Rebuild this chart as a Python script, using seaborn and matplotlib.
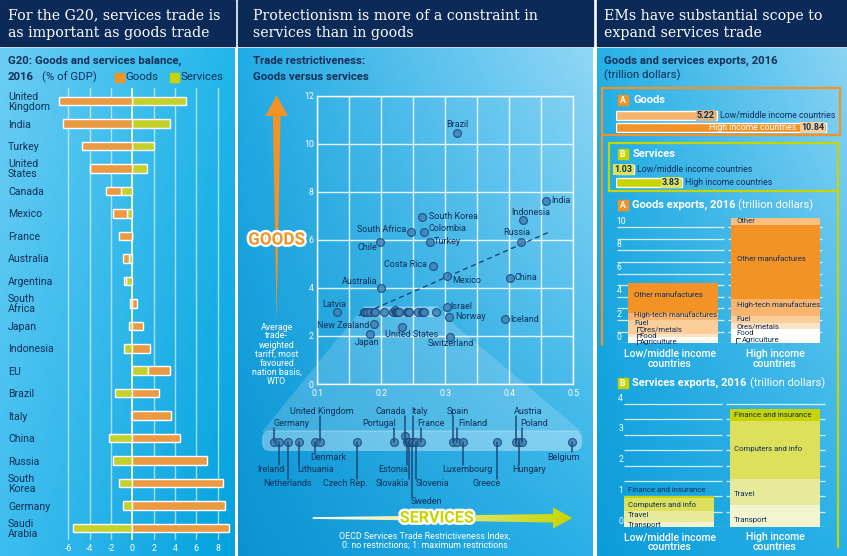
import numpy as np
import pandas as pd
import matplotlib
matplotlib.use("Agg")
import matplotlib.pyplot as plt
import matplotlib.transforms as mtransforms
from matplotlib.patches import Rectangle, Polygon, FancyBboxPatch
from matplotlib import patheffects as pe
import seaborn as sns

sns.set_theme(style="white")
plt.rcParams['font.family'] = ['Roboto', 'DejaVu Sans']

# ------------------------------------------------------------------ data
g20_countries = ["United\nKingdom", "India", "Turkey", "United\nStates", "Canada",
                 "Mexico", "France", "Australia", "Argentina", "South\nAfrica",
                 "Japan", "Indonesia", "EU", "Brazil", "Italy", "China", "Russia",
                 "South\nKorea", "Germany", "Saudi\nArabia"]
goods_balance = [-6.9, -6.5, -4.75, -4.0, -1.4, -1.3, -1.25, -0.55, -0.15, 0.4,
                 1.05, 1.65, 2.05, 2.55, 3.6, 4.5, 7.0, 8.5, 8.7, 9.05]
services_balance = [5.0, 3.5, 2.0, 1.35, -1.1, -0.5, 0.0, -0.3, -0.6, -0.2,
                    -0.3, -0.8, 1.5, -1.6, -0.1, -2.2, -1.8, -1.25, -0.85, -5.55]
balance_ticks = [-6, -4, -2, 0, 2, 4, 6, 8]

scatter_countries = ["Brazil", "India", "Indonesia", "Russia", "China", "Iceland",
                     "South Korea", "Colombia", "South Africa", "Turkey", "Chile",
                     "Costa Rica", "Mexico", "Australia", "Latvia", "New Zealand",
                     "United States", "Japan", "Switzerland", "Israel", "Norway"]
scatter_stri = [0.319, 0.458, 0.421, 0.419, 0.401, 0.394, 0.263, 0.266, 0.247, 0.276,
                0.198, 0.280, 0.302, 0.199, 0.131, 0.188, 0.233, 0.182, 0.308, 0.302, 0.305]
scatter_tariff = [10.46, 7.63, 6.83, 5.90, 4.43, 2.70, 6.94, 6.33, 6.33, 5.92,
                  5.91, 4.92, 4.49, 4.01, 3.01, 2.48, 2.39, 2.08, 1.97, 3.20, 2.79]

cluster_countries = ["Germany", "Ireland", "Netherlands", "Lithuania", "Denmark",
                     "United Kingdom", "Czech Rep.", "Portugal", "Canada", "Estonia",
                     "Slovakia", "Sweden", "Italy", "Slovenia", "France", "Spain",
                     "Finland", "Luxembourg", "Greece", "Austria", "Hungary", "Poland",
                     "Belgium"]
cluster_stri = [0.173, 0.1747, 0.178, 0.1824, 0.1882, 0.1902, 0.204, 0.218, 0.222,
                0.2228, 0.2237, 0.2246, 0.2251, 0.2263, 0.2281, 0.240, 0.2416, 0.244,
                0.2567, 0.2638, 0.2649, 0.2661, 0.285]
cluster_tariff = [3.0, 3.0, 3.0, 3.0, 3.0, 3.0, 3.0, 3.0, 3.1, 3.0, 3.0, 3.0, 3.0,
                  3.0, 3.0, 3.0, 3.0, 3.0, 3.0, 3.0, 3.0, 3.0, 3.0]
trend_stri = [0.165, 0.46]
trend_tariff = [2.85, 6.3]

income_groups = ["Low/middle income countries", "High income countries"]
goods_exports_total = [5.22, 10.84]
services_exports_total = [1.03, 3.83]

goods_segments = ["Agriculture", "Food", "Ores/metals", "Fuel",
                  "High-tech manufactures", "Other manufactures", "Other"]
goods_low = [0.25, 0.33, 0.25, 1.20, 0.58, 2.61, 0.0]
goods_high = [0.23, 0.98, 0.52, 0.63, 1.44, 6.38, 0.66]

services_segments = ["Transport", "Travel", "Computers and info", "Finance and insurance"]
services_low = [0.17, 0.35, 0.43, 0.08]
services_high = [0.72, 0.86, 1.87, 0.38]

# ------------------------------------------------------------------ style
W, H = 847, 556
NAVY = '#10305a'
BAR_NAVY = '#0b2a57'
ORANGE = '#f39325'
LGREEN = '#c8d400'
P1_ORANGE = '#ec9a42'
P1_GREEN = '#c4d02c'
SERIF = ['DejaVu Serif']

fig = plt.figure(figsize=(W / 100, H / 100), dpi=100, facecolor='white')


def rect_px(l, t, w, h):
    return [l / W, 1 - (t + h) / H, w / W, h / H]


ax_bg = fig.add_axes([0, 0, 1, 1])
ax_bg.axis('off')


def gradient(x0, x1, y0, y1, tl, tr, bl, br):
    n = 64
    c = [np.array(matplotlib.colors.to_rgb(k)) for k in (tl, tr, bl, br)]
    u = np.linspace(0, 1, n)[None, :, None]
    v = np.linspace(0, 1, n)[:, None, None]
    img = (1 - u) * (1 - v) * c[0] + u * (1 - v) * c[1] + (1 - u) * v * c[2] + u * v * c[3]
    ax_bg.imshow(img, extent=(x0, x1, y1, y0), origin='upper', aspect='auto',
                 interpolation='bilinear', zorder=0)


panels = [(0, 235), (238, 593), (597, 847)]
gradient(0, 235, 48, H, '#6ccdf3', '#22b6ea', '#3dbdef', '#03a2de')
gradient(238, 593, 48, H, '#22ace4', '#8fd6f5', '#0a93d3', '#2ab1e7')
gradient(597, 847, 48, H, '#26b0e6', '#8ad3f3', '#0c9cd9', '#28b1e7')
for x0, x1 in panels:
    ax_bg.add_patch(Rectangle((x0, 0), x1 - x0, 46, color=BAR_NAVY, zorder=1))
ax_bg.set_xlim(0, W)
ax_bg.set_ylim(H, 0)

texts = []


def T(x, y, s, **kw):
    texts.append((x, y, s, kw))


# titles
T(8, 24.2, "For the G20, services trade is\nas important as goods trade",
  color='white', fontsize=10.2, family=SERIF, va='center', linespacing=1.28)
T(253, 24.2, "Protectionism is more of a constraint in\nservices than in goods",
  color='white', fontsize=10.2, family=SERIF, va='center', linespacing=1.28)
T(604, 24.2, "EMs have substantial scope to\nexpand services trade",
  color='white', fontsize=10.2, family=SERIF, va='center', linespacing=1.28)

# ================================================================ panel 1
ax1 = fig.add_axes(rect_px(57.75, 88, 175.75, 452))
ax1.set_xlim(-7, 9.5)
ax1.set_ylim(19.53, -0.58)
ax1.patch.set_alpha(0)
for s in ax1.spines.values():
    s.set_visible(False)
ypos = np.arange(len(g20_countries))
for t in balance_ticks:
    ax1.axvline(t, color='white', lw=1.3 if t == 0 else 1.0,
                alpha=0.95 if t == 0 else 0.6, zorder=1)
goods_left = [s if g * s > 0 else 0 for g, s in zip(goods_balance, services_balance)]
ax1.barh(ypos, services_balance, height=0.38, color=P1_GREEN, zorder=2)
ax1.barh(ypos, goods_balance, left=goods_left, height=0.38, color=P1_ORANGE, zorder=2)
ax1.set_yticks(ypos)
ax1.set_yticklabels(g20_countries, fontsize=7.6, color=NAVY, linespacing=0.95)
for lab in ax1.get_yticklabels():
    lab.set_ha('left')
ax1.tick_params(axis='y', length=0, pad=49.75 * 0.72)
ax1.set_xticks(balance_ticks)
ax1.set_xticklabels([str(t) for t in balance_ticks], fontsize=6.3, color='white')
ax1.tick_params(axis='x', length=0, pad=3.0)

T(8, 61, "G20: Goods and services balance,", color=NAVY, fontsize=8.2,
  fontweight='bold', va='center')
T(8, 77, "2016", color=NAVY, fontsize=8.2, fontweight='bold', va='center')
T(42, 77, "(% of GDP)", color=NAVY, fontsize=8.2, va='center')
ax_bg.add_patch(Rectangle((114.5, 72.5), 9, 9, color=ORANGE, zorder=2))
T(125, 77, "Goods", color=NAVY, fontsize=8.2, va='center')
ax_bg.add_patch(Rectangle((170, 72.5), 9, 9, color=LGREEN, zorder=2))
T(180.5, 77, "Services", color=NAVY, fontsize=8.2, va='center')

# ================================================================ panel 2
T(253, 61, "Trade restrictiveness:", color=NAVY, fontsize=8.2, fontweight='bold',
  va='center')
T(253, 76.7, "Goods versus services", color=NAVY, fontsize=8.2, fontweight='bold',
  va='center')

# magnifier shapes
ax_bg.add_patch(Polygon([(356, 316), (444, 316), (582, 432), (262, 432)],
                        closed=True, color='white', alpha=0.17, lw=0, zorder=2))
ax_bg.add_patch(FancyBboxPatch((361, 306.5), 79, 10.5,
                               boxstyle="round,pad=0,rounding_size=5",
                               fc='white', alpha=0.38, lw=0, zorder=2))
ax_bg.add_patch(FancyBboxPatch((262, 430.5), 320, 20.5,
                               boxstyle="round,pad=0,rounding_size=8",
                               fc='white', alpha=0.35, lw=0, zorder=2))

ax2 = fig.add_axes(rect_px(317.3, 95.7, 256, 288.3))
ax2.patch.set_alpha(0)
ax2.set_xlim(0.1, 0.5)
ax2.set_ylim(0, 12)
ax2.set_xticks([0.1, 0.2, 0.3, 0.4, 0.5])
ax2.set_xticks([0.15, 0.25, 0.35, 0.45], minor=True)
ax2.set_xticklabels(["0.1", "0.2", "0.3", "0.4", "0.5"], fontsize=6.3, color='white')
ax2.set_yticks(range(0, 13, 2))
ax2.set_yticklabels([str(v) for v in range(0, 13, 2)], fontsize=6.3, color='white')
ax2.tick_params(which='both', length=0)
ax2.tick_params(axis='x', pad=3.5)
ax2.tick_params(axis='y', pad=2.5)
ax2.grid(which='both', color='white', lw=1.0, alpha=0.85, zorder=0)
for s in ax2.spines.values():
    s.set_color('white')
    s.set_linewidth(1.0)
ax2.set_axisbelow(True)

PT_FACE = '#3f82b9'
PT_EDGE = '#1c4877'
ax2.plot(trend_stri, trend_tariff, ls=(0, (4, 3)), color='#163d6b', lw=0.9, zorder=3)
df_sc = pd.DataFrame({"country": scatter_countries, "stri": scatter_stri,
                      "tariff": scatter_tariff})
df_cl = pd.DataFrame({"country": cluster_countries, "stri": cluster_stri,
                      "tariff": cluster_tariff})
sns.scatterplot(data=pd.concat([df_cl, df_sc]), x="stri", y="tariff", ax=ax2,
                s=32, color=PT_FACE, edgecolor=PT_EDGE, linewidth=0.85, alpha=0.85,
                zorder=5, legend=False)
ax2.set_xlabel("")
ax2.set_ylabel("")

scatter_label_pos = {
    "Brazil": (0, 8.5, 'center'), "India": (5, 0, 'left'),
    "Indonesia": (8, 7.2, 'center'), "Russia": (-4.5, 9.5, 'center'),
    "China": (5, 0, 'left'), "Iceland": (5, 0, 'left'),
    "South Korea": (7.5, 0.5, 'left'), "Colombia": (4.5, 3, 'left'),
    "South Africa": (-5, 2, 'right'), "Turkey": (3.5, 0.7, 'left'),
    "Chile": (-2.5, -5.3, 'right'), "Costa Rica": (-5.5, 1.5, 'right'),
    "Mexico": (5.7, -4.6, 'left'), "Australia": (-2.7, 6.6, 'right'),
    "Latvia": (-2.4, 6.7, 'center'), "New Zealand": (-4.3, -1.3, 'right'),
    "United States": (9, -8, 'center'), "Japan": (-3, -8.3, 'center'),
    "Switzerland": (0, -7.3, 'center'), "Israel": (3.5, 1, 'left'),
    "Norway": (6.5, 0, 'left'),
}
for name, x, y in zip(scatter_countries, scatter_stri, scatter_tariff):
    dx, dy, ha = scatter_label_pos[name]
    ax2.annotate(name, (x, y), xytext=(dx, dy), textcoords='offset pixels',
                 ha=ha, va='center', fontsize=6.5, color=NAVY, zorder=6)

# strip (magnified cluster)
ax3 = fig.add_axes(rect_px(262, 431, 320, 21))
ax3.set_xlim(0.16838, 0.28865)
ax3.set_ylim(2.825, 3.175)
ax3.axis('off')
sns.scatterplot(data=df_cl, x="stri", y="tariff", ax=ax3, s=32, color=PT_FACE,
                edgecolor=PT_EDGE, linewidth=0.85, alpha=0.85, zorder=5, legend=False)

strip_label_pos = {
    "United Kingdom": (2, 411), "Canada": (-13.7, 411), "Italy": (6.7, 411),
    "Spain": (5.3, 411), "Austria": (12, 411),
    "Germany": (17, 423), "Portugal": (-15, 423), "France": (9.7, 423),
    "Finland": (15.5, 423), "Poland": (12.5, 423),
    "Denmark": (14, 457), "Belgium": (-8.5, 457),
    "Ireland": (-8.2, 470), "Lithuania": (16.4, 470), "Estonia": (-13.2, 470),
    "Luxembourg": (4.4, 470), "Hungary": (10, 470),
    "Netherlands": (0, 484), "Czech Rep.": (-11.9, 484), "Slovakia": (-16.3, 484),
    "Slovenia": (16.5, 484), "Greece": (-10.7, 484),
    "Sweden": (15, 502),
}

# ================================================================ panel 3
T(604, 61, "Goods and services exports, 2016", color=NAVY, fontsize=8.2,
  fontweight='bold', va='center')
T(604, 75, "(trillion dollars)", color=NAVY, fontsize=8.2, va='center')

ax_bg.add_patch(Rectangle((602, 88.3), 238, 46.7, fill=False, ec=ORANGE, lw=1.6, zorder=3))
ax_bg.plot([602, 602], [135, 345], color=ORANGE, lw=1.6, zorder=3)
ax_bg.add_patch(Rectangle((609, 142.7), 228.5, 48, fill=False, ec=LGREEN, lw=1.6, zorder=3))
ax_bg.plot([837.5, 837.5], [190.7, 547], color=LGREEN, lw=1.6, zorder=3)
ax_bg.set_xlim(0, W)
ax_bg.set_ylim(H, 0)

for (x, y, c, lab) in [(617.5, 95, ORANGE, "A"), (617.5, 149, LGREEN, "B"),
                       (617.5, 200, ORANGE, "A"), (617.5, 378, LGREEN, "B")]:
    ax_bg.add_patch(Rectangle((x, y), 10, 10, color=c, zorder=3))
    T(x + 5, y + 5.3, lab, color='white', fontsize=6.2, fontweight='bold',
      ha='center', va='center')
T(633, 100, "Goods", color='white', fontsize=8, fontweight='bold', va='center')
T(633, 154, "Services", color='white', fontsize=8, fontweight='bold', va='center')

BOXFS = 6.3
# totals bars
axg = fig.add_axes(rect_px(615.7, 109.5, 224, 23.7))
sns.barplot(x=goods_exports_total, y=income_groups, hue=income_groups,
            palette=['#f8b46c', ORANGE], orient='h', width=0.76, ax=axg,
            legend=False, saturation=1)
axg.set_xlim(0, 224 / 19.4)
axg.set_ylim(1.5, -0.5)
axg.axis('off')
axg.annotate(f"{goods_exports_total[0]:.2f}", (goods_exports_total[0], 0),
             xytext=(-2, 0), textcoords='offset pixels', ha='right', va='center',
             fontsize=BOXFS + 0.2, fontweight='bold', color=NAVY,
             bbox=dict(boxstyle='square,pad=0.12', fc='#e0b27e', ec='none'))
axg.annotate("Low/middle income countries", (goods_exports_total[0], 0),
             xytext=(3, 0), textcoords='offset pixels', ha='left', va='center',
             fontsize=BOXFS, color=NAVY)
axg.annotate(f"{goods_exports_total[1]:.2f}", (goods_exports_total[1], 1),
             xytext=(-2, 0), textcoords='offset pixels', ha='right', va='center',
             fontsize=BOXFS + 0.2, fontweight='bold', color=NAVY,
             bbox=dict(boxstyle='square,pad=0.12', fc='#f9cf9b', ec='none'))
axg.annotate("High income countries", (goods_exports_total[1], 1),
             xytext=(-30, 0), textcoords='offset pixels', ha='right', va='center',
             fontsize=BOXFS, color='white')

axs = fig.add_axes(rect_px(615.7, 163.2, 220, 25.4))
sns.barplot(x=services_exports_total, y=income_groups, hue=income_groups,
            palette=[LGREEN, LGREEN], orient='h', width=0.72, ax=axs,
            legend=False, saturation=1)
axs.set_xlim(0, 220 / 17.3)
axs.set_ylim(1.5, -0.5)
axs.axis('off')
axs.annotate(f"{services_exports_total[0]:.2f}", (services_exports_total[0], 0),
             xytext=(-1, 0), textcoords='offset pixels', ha='right', va='center',
             fontsize=BOXFS + 0.2, fontweight='bold', color=NAVY,
             bbox=dict(boxstyle='square,pad=0.12', fc='#dfe25a', ec='none'))
axs.annotate("Low/middle income countries", (services_exports_total[0], 0),
             xytext=(3, 0), textcoords='offset pixels', ha='left', va='center',
             fontsize=BOXFS, color=NAVY)
axs.annotate(f"{services_exports_total[1]:.2f}", (services_exports_total[1], 1),
             xytext=(-2, 0), textcoords='offset pixels', ha='right', va='center',
             fontsize=BOXFS + 0.2, fontweight='bold', color=NAVY,
             bbox=dict(boxstyle='square,pad=0.12', fc='#dfe25a', ec='none'))
axs.annotate("High income countries", (services_exports_total[1], 1),
             xytext=(3, 0), textcoords='offset pixels', ha='left', va='center',
             fontsize=BOXFS, color=NAVY)

# stacked goods exports
T(632, 205, "Goods exports, 2016", color='white', fontsize=8, fontweight='bold',
  va='center', key='gtitle')
T(632, 383, "Services exports, 2016", color='white', fontsize=8, fontweight='bold',
  va='center', key='stitle')

ax4 = fig.add_axes(rect_px(615, 215, 211, 128.3))
ax4.set_xlim(-0.570, 1.494)
ax4.set_ylim(0, 11.06)
ax4.axis('off')
for v in range(0, 11):
    ax4.hlines(v, -0.554, 0.496, color='white', lw=0.9, alpha=0.8, zorder=1)
    ax4.hlines(v, 0.532, 1.452, color='white', lw=0.9, alpha=0.8, zorder=1)
for v in range(0, 11, 2):
    ax4.annotate(str(v), (-0.554, v), xytext=(0, 1.5), textcoords='offset pixels',
                 ha='left', va='bottom', fontsize=6.2, color='white')
goods_colors = ['#fff7ee', '#ffffff', '#fde3c6', '#fbcd98', '#f9b570', ORANGE, '#f9c07f']
bl = np.zeros(2)
for seg, lo, hi, col in zip(goods_segments, goods_low, goods_high, goods_colors):
    ax4.bar([0, 1], [lo, hi], bottom=bl, width=0.88, color=col, zorder=3, lw=0)
    bl += np.array([lo, hi])

goods_label_y_low = [0.09, 0.63, 1.23, 1.78, 2.5, 4.16, None]
goods_label_y_high = [0.28, 0.86, 1.49, 2.09, 3.3, 7.24, 10.54]
for seg, yl, yh in zip(goods_segments, goods_label_y_low, goods_label_y_high):
    if yl is not None:
        small = seg in ("Agriculture", "Food", "Ores/metals")
        ax4.annotate(seg, (-0.44, yl), xytext=(11.5 if small else 6, 0),
                     textcoords='offset pixels', ha='left', va='center',
                     fontsize=5.6, color=NAVY, zorder=6)
    small_h = seg == "Agriculture"
    ax4.annotate(seg, (0.56, yh), xytext=(11 if small_h else 6, 0),
                 textcoords='offset pixels', ha='left', va='center',
                 fontsize=5.6, color=NAVY, zorder=6)

# services stacked
ax5 = fig.add_axes(rect_px(615, 395, 215, 132.3))
ax5.set_xlim(-0.511, 1.517)
ax5.set_ylim(0, 4.295)
ax5.axis('off')
for v in np.arange(0, 4.01, 0.5):
    ax5.hlines(v, -0.429, 0.495, color='white', lw=0.9, alpha=0.8, zorder=1)
    ax5.hlines(v, 0.536, 1.47, color='white', lw=0.9, alpha=0.8, zorder=1)
for v in range(0, 5):
    ax5.annotate(str(v), (-0.48, v), xytext=(0, 1.5), textcoords='offset pixels',
                 ha='left', va='bottom', fontsize=6.2, color='white')
services_colors = ['#f2f3cf', '#e7e99b', '#dce05a', LGREEN]
bl = np.zeros(2)
for seg, lo, hi, col in zip(services_segments, services_low, services_high, services_colors):
    ax5.bar([0, 1], [lo, hi], bottom=bl, width=0.85, color=col, zorder=3, lw=0)
    bl += np.array([lo, hi])
services_label_y_low = [0.07, 0.4, 0.75, 1.21]
services_label_y_high = [0.24, 1.08, 2.56, 3.65]
for seg, yl, yh in zip(services_segments, services_label_y_low, services_label_y_high):
    ax5.annotate(seg, (-0.425, yl), xytext=(4, 0), textcoords='offset pixels',
                 ha='left', va='center', fontsize=5.6, color=NAVY, zorder=6)
    ax5.annotate(seg, (0.575, yh), xytext=(4, 0), textcoords='offset pixels',
                 ha='left', va='center', fontsize=5.6, color=NAVY, zorder=6)

for cx, cy, lab in [(670, 358.7, "Low/middle income\ncountries"),
                    (775, 358.7, "High income\ncountries"),
                    (670, 542.5, "Low/middle income\ncountries"),
                    (775, 542.5, "High income\ncountries")]:
    T(cx, cy, lab, color='white', fontsize=7.6, ha='center', va='center',
      linespacing=1.0, fontweight='medium')

# ================================================================ overlay
ax_fg = fig.add_axes([0, 0, 1, 1])
ax_fg.set_xlim(0, W)
ax_fg.set_ylim(H, 0)
ax_fg.axis('off')
ax_fg.patch.set_alpha(0)

renderer = fig.canvas.get_renderer()
for x, y, s, kw in texts:
    key = kw.pop('key', None)
    t = ax_fg.text(x, y, s, **kw)
    if key in ('gtitle', 'stitle'):
        bb = t.get_window_extent(renderer)
        ax_fg.text(x + bb.width + 3, y, "(trillion dollars)", color='white',
                   fontsize=8, va='center')

# brackets for small goods segments
for (bx, by) in [(636.5, 329), (636.5, 336), (636.5, 342.3), (735.5, 340)]:
    ax_fg.plot([bx, bx, bx + 4], [by + 3, by - 2.5, by - 2.5], color=NAVY, lw=0.6)

# GOODS arrow
ax_fg.add_patch(Polygon([(276.7, 95.5), (288, 116), (280.5, 116), (276.7, 320),
                         (272.9, 116), (265.4, 116)], closed=True, color=ORANGE, lw=0))
ax_fg.text(276.7, 240, "GOODS", color=ORANGE, fontsize=12.3, fontweight='bold',
           ha='center', va='center',
           path_effects=[pe.withStroke(linewidth=3.4, foreground='white')])
ax_fg.text(276.7, 354, "Average\ntrade-\nweighted\ntariff, most\nfavoured\nnation basis,\nWTO",
           color='white', fontsize=6.4, ha='center', va='center', linespacing=1.0)

# SERVICES arrow with gradient
arrow = Polygon([(312.7, 517.2), (553, 514), (553, 507.5), (572.5, 518),
                 (553, 528.5), (553, 522.5), (312.7, 518.9)], closed=True,
                fc='none', ec='none')
ax_fg.add_patch(arrow)
c0 = np.array(matplotlib.colors.to_rgb('#ffffff'))
c1 = np.array(matplotlib.colors.to_rgb(LGREEN))
uu = np.linspace(0, 1, 128)[None, :, None]
grad_img = np.repeat((1 - uu) * c0 + uu * c1, 4, axis=0)
im = ax_fg.imshow(grad_img, extent=(312, 573, 531, 506), aspect='auto', origin='upper')
im.set_clip_path(arrow)
ax_fg.set_xlim(0, W)
ax_fg.set_ylim(H, 0)
ax_fg.text(436.7, 518, "SERVICES", color=LGREEN, fontsize=11.6, fontweight='bold',
           ha='center', va='center',
           path_effects=[pe.withStroke(linewidth=3.4, foreground='white')])
ax_fg.text(425, 541, "OECD Services Trade Restrictiveness Index,\n0: no restrictions; 1: maximum restrictions",
           color='white', fontsize=6.4, ha='center', va='center', linespacing=1.05)

# strip labels and leader lines
blend = mtransforms.blended_transform_factory(ax3.transData, ax_fg.transData)
for name, v in zip(cluster_countries, cluster_stri):
    dx, ly = strip_label_pos[name]
    tr = mtransforms.offset_copy(blend, fig=fig, x=dx, y=0, units='dots')
    ax_fg.text(v, ly, name, transform=tr, ha='center', va='center', fontsize=6.5,
               color=NAVY)
    y_end = ly + 4.5 if ly < 440 else ly - 5
    ax_fg.plot([v, v], [441.5, y_end], transform=blend, color='#1d4a7a', lw=1.1,
               zorder=1)

fig.savefig("out.png", dpi=100, facecolor='white')
